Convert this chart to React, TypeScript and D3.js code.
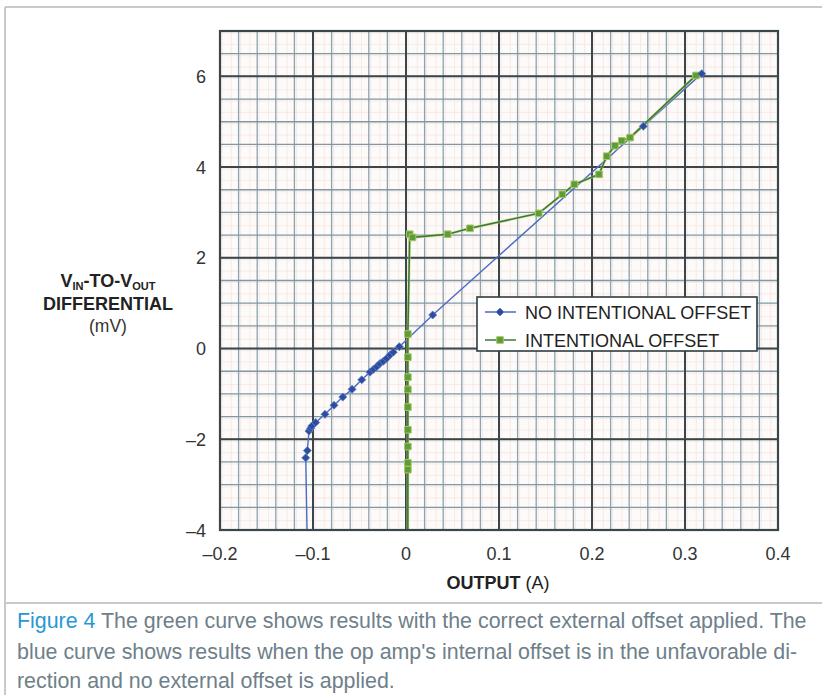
import React from "react";
import * as d3 from "d3";

const WIDTH = 822;
const HEIGHT = 695;
const PLOT = { left: 220, right: 778, top: 31, bottom: 530 };

// axis ticks
const X_TICKS = [-0.2, -0.1, 0, 0.1, 0.2, 0.3, 0.4];
const Y_TICKS = [-4, -2, 0, 2, 4, 6];

// NO INTENTIONAL OFFSET (blue)
const noOffsetX = [
  -0.106, -0.1078, -0.1061, -0.1043, -0.1025, -0.1014, -0.0971, -0.0871, -0.0774, -0.068, -0.058,
  -0.0476, -0.0387, -0.0352, -0.0315, -0.028, -0.0244, -0.0208, -0.0172, -0.0137, -0.0072, 0.0287,
  0.2552, 0.318,
];
const noOffsetY = [
  -4.5, -2.41, -2.25, -1.82, -1.76, -1.71, -1.63, -1.45, -1.25, -1.07, -0.9, -0.69, -0.52, -0.46,
  -0.4, -0.33, -0.28, -0.22, -0.14, -0.08, 0.04, 0.74, 4.9, 6.06,
];

// INTENTIONAL OFFSET (green)
const offsetX = [
  0.002, 0.002, 0.002, 0.002, 0.002, 0.002, 0.002, 0.002, 0.002, 0.002, 0.004, 0.007, 0.0448,
  0.0688, 0.1427, 0.168, 0.181, 0.2075, 0.2158, 0.2247, 0.232, 0.2409, 0.3118,
];
const offsetY = [
  -4.5, -2.67, -2.52, -2.16, -1.79, -1.29, -0.9, -0.63, -0.19, 0.32, 2.52, 2.45, 2.52, 2.65, 2.98,
  3.4, 3.62, 3.84, 4.24, 4.47, 4.58, 4.65, 6.02,
];

const SERIES_NAMES = ["NO INTENTIONAL OFFSET", "INTENTIONAL OFFSET"];

const CAPTION_LINES = [
  "The green curve shows results with the correct external offset applied. The",
  "blue curve shows results when the op amp's internal offset is in the unfavorable di-",
  "rection and no external offset is applied.",
];

const FONT = "'Liberation Sans', Arial, Helvetica, sans-serif";
const BLUE_LINE = "#4a6cc2";
const BLUE_MARK = "#2c4c9c";
const GREEN_LINE = "#3a7a36";
const GREEN_MARK = "#5c9c3c";

const fmt = (d: number) => (d < 0 ? "\u2013" + String(Math.abs(d)) : String(d));

function App() {
  const x = d3.scaleLinear().domain([-0.2, 0.4]).range([PLOT.left, PLOT.right]);
  const y = d3.scaleLinear().domain([-4, 7]).range([PLOT.bottom, PLOT.top]);

  const blue = noOffsetX.map((v, i) => [v, noOffsetY[i]] as [number, number]);
  const green = offsetX.map((v, i) => [v, offsetY[i]] as [number, number]);

  const line = d3
    .line<[number, number]>()
    .x((d) => x(d[0]))
    .y((d) => y(d[1]));

  // graph paper grid
  const pinkX = d3.range(-0.2, 0.4001, 0.01);
  const pinkY = d3.range(-4, 7.001, 0.25);
  const minorX = d3.range(-0.2, 0.4001, 0.02);
  const minorY = d3.range(-4, 7.001, 0.5);

  const diamond = d3.symbol(d3.symbolSquare, 32)();
  const square = d3.symbol(d3.symbolSquare, 44)();

  const blueMarker = (cx: number, cy: number, k: string | number) => (
    <path
      key={k}
      d={diamond || ""}
      transform={`translate(${cx},${cy}) rotate(45)`}
      fill={BLUE_MARK}
      stroke="#5d7cc8"
      strokeWidth={0.8}
    />
  );
  const greenMarker = (cx: number, cy: number, k: string | number) => (
    <path
      key={k}
      d={square || ""}
      transform={`translate(${cx},${cy})`}
      fill={GREEN_MARK}
      stroke="#a9c75e"
      strokeWidth={1}
    />
  );

  return (
    <svg
      width={WIDTH}
      height={HEIGHT}
      style={{ position: "absolute", left: 0, top: 0, background: "#fff" }}
      fontFamily={FONT}
    >
      <defs>
        <clipPath id="plot-clip">
          <rect x={PLOT.left} y={PLOT.top} width={PLOT.right - PLOT.left} height={PLOT.bottom - PLOT.top} />
        </clipPath>
      </defs>

      {/* frame */}
      <line x1={5} x2={WIDTH} y1={7} y2={7} stroke="#c9c9c9" strokeWidth={2} />
      <line x1={5} x2={5} y1={7} y2={HEIGHT} stroke="#c9c9c9" strokeWidth={2} />
      <line x1={5} x2={WIDTH} y1={603} y2={603} stroke="#c9c9c9" strokeWidth={2} />

      {/* plot background */}
      <rect
        x={PLOT.left}
        y={PLOT.top}
        width={PLOT.right - PLOT.left}
        height={PLOT.bottom - PLOT.top}
        fill="#fdfafa"
      />
      <g clipPath="url(#plot-clip)">
        {pinkX.map((d, i) => (
          <line key={"px" + i} x1={x(d) + 2} x2={x(d) + 2} y1={PLOT.top} y2={PLOT.bottom} stroke="#f7e2dc" strokeWidth={0.7} />
        ))}
        {pinkY.map((d, i) => (
          <line key={"py" + i} x1={PLOT.left} x2={PLOT.right} y1={y(d) + 2} y2={y(d) + 2} stroke="#f7e2dc" strokeWidth={0.7} />
        ))}
        {minorX.map((d, i) => (
          <line key={"mx" + i} x1={x(d)} x2={x(d)} y1={PLOT.top} y2={PLOT.bottom} stroke="#89a3b0" strokeWidth={1.3} />
        ))}
        {minorY.map((d, i) => (
          <line key={"my" + i} x1={PLOT.left} x2={PLOT.right} y1={y(d)} y2={y(d)} stroke="#7f98a4" strokeWidth={1.3} />
        ))}
        {X_TICKS.map((d) => (
          <line key={"Mx" + d} x1={x(d)} x2={x(d)} y1={PLOT.top} y2={PLOT.bottom} stroke="#3a4649" strokeWidth={2} />
        ))}
        {Y_TICKS.map((d) => (
          <line key={"My" + d} x1={PLOT.left} x2={PLOT.right} y1={y(d)} y2={y(d)} stroke="#3a4649" strokeWidth={2} />
        ))}

        {/* series */}
        <path d={line(blue) || ""} fill="none" stroke={BLUE_LINE} strokeWidth={1.4} />
        <path d={line(green) || ""} fill="none" stroke="#c9d57a" strokeWidth={3} opacity={0.6} />
        <path d={line(green) || ""} fill="none" stroke={GREEN_LINE} strokeWidth={1.6} />
        {green.map((d, i) => greenMarker(x(d[0]), y(d[1]), "g" + i))}
        {blue.map((d, i) => blueMarker(x(d[0]), y(d[1]), "b" + i))}
      </g>
      <rect
        x={PLOT.left}
        y={PLOT.top}
        width={PLOT.right - PLOT.left}
        height={PLOT.bottom - PLOT.top}
        fill="none"
        stroke="#3a4649"
        strokeWidth={2.2}
      />

      {/* legend */}
      <g>
        <rect x={477} y={297} width={280} height={54} fill="#ffffff" stroke="#2f3d42" strokeWidth={1.6} />
        {SERIES_NAMES.map((name, i) => {
          const cy = 312 + i * 28;
          return (
            <g key={name}>
              <line x1={485} x2={516} y1={cy} y2={cy} stroke={i === 0 ? BLUE_LINE : GREEN_LINE} strokeWidth={1.5} />
              {i === 0 ? blueMarker(500, cy, "lb") : greenMarker(500, cy, "lg")}
              <text x={525} y={cy + 6.5} fontSize={18} fill="#222">
                {name}
              </text>
            </g>
          );
        })}
      </g>

      {/* tick labels */}
      {Y_TICKS.map((d) => (
        <text key={"yt" + d} x={206} y={y(d) + 6.5} fontSize={18} textAnchor="end" fill="#333">
          {fmt(d)}
        </text>
      ))}
      {X_TICKS.map((d) => (
        <text key={"xt" + d} x={x(d)} y={560} fontSize={18} textAnchor="middle" fill="#333">
          {fmt(d)}
        </text>
      ))}

      {/* axis titles */}
      <text x={108} y={287} fontSize={18} fontWeight="bold" textAnchor="middle" fill="#222">
        V<tspan fontSize={11} dy={3}>IN</tspan>
        <tspan dy={-3}>-TO-V</tspan>
        <tspan fontSize={11} dy={3}>OUT</tspan>
      </text>
      <text x={108} y={310} fontSize={18} fontWeight="bold" textAnchor="middle" fill="#222">
        DIFFERENTIAL
      </text>
      <text x={108} y={332} fontSize={17.5} textAnchor="middle" fill="#333">
        (mV)
      </text>
      <text x={498} y={589} fontSize={18} textAnchor="middle" fill="#222">
        <tspan fontWeight="bold">OUTPUT</tspan>
        <tspan> (A)</tspan>
      </text>

      {/* caption */}
      <text x={17} y={628} fontSize={21.4} fill="#6e808a">
        <tspan fill="#2898d4">Figure 4</tspan>
        <tspan> {CAPTION_LINES[0]}</tspan>
      </text>
      {CAPTION_LINES.slice(1).map((l, i) => (
        <text key={"cap" + i} x={17} y={659 + i * 29} fontSize={21.4} fill="#6e808a">
          {l}
        </text>
      ))}
    </svg>
  );
}

export default App;
